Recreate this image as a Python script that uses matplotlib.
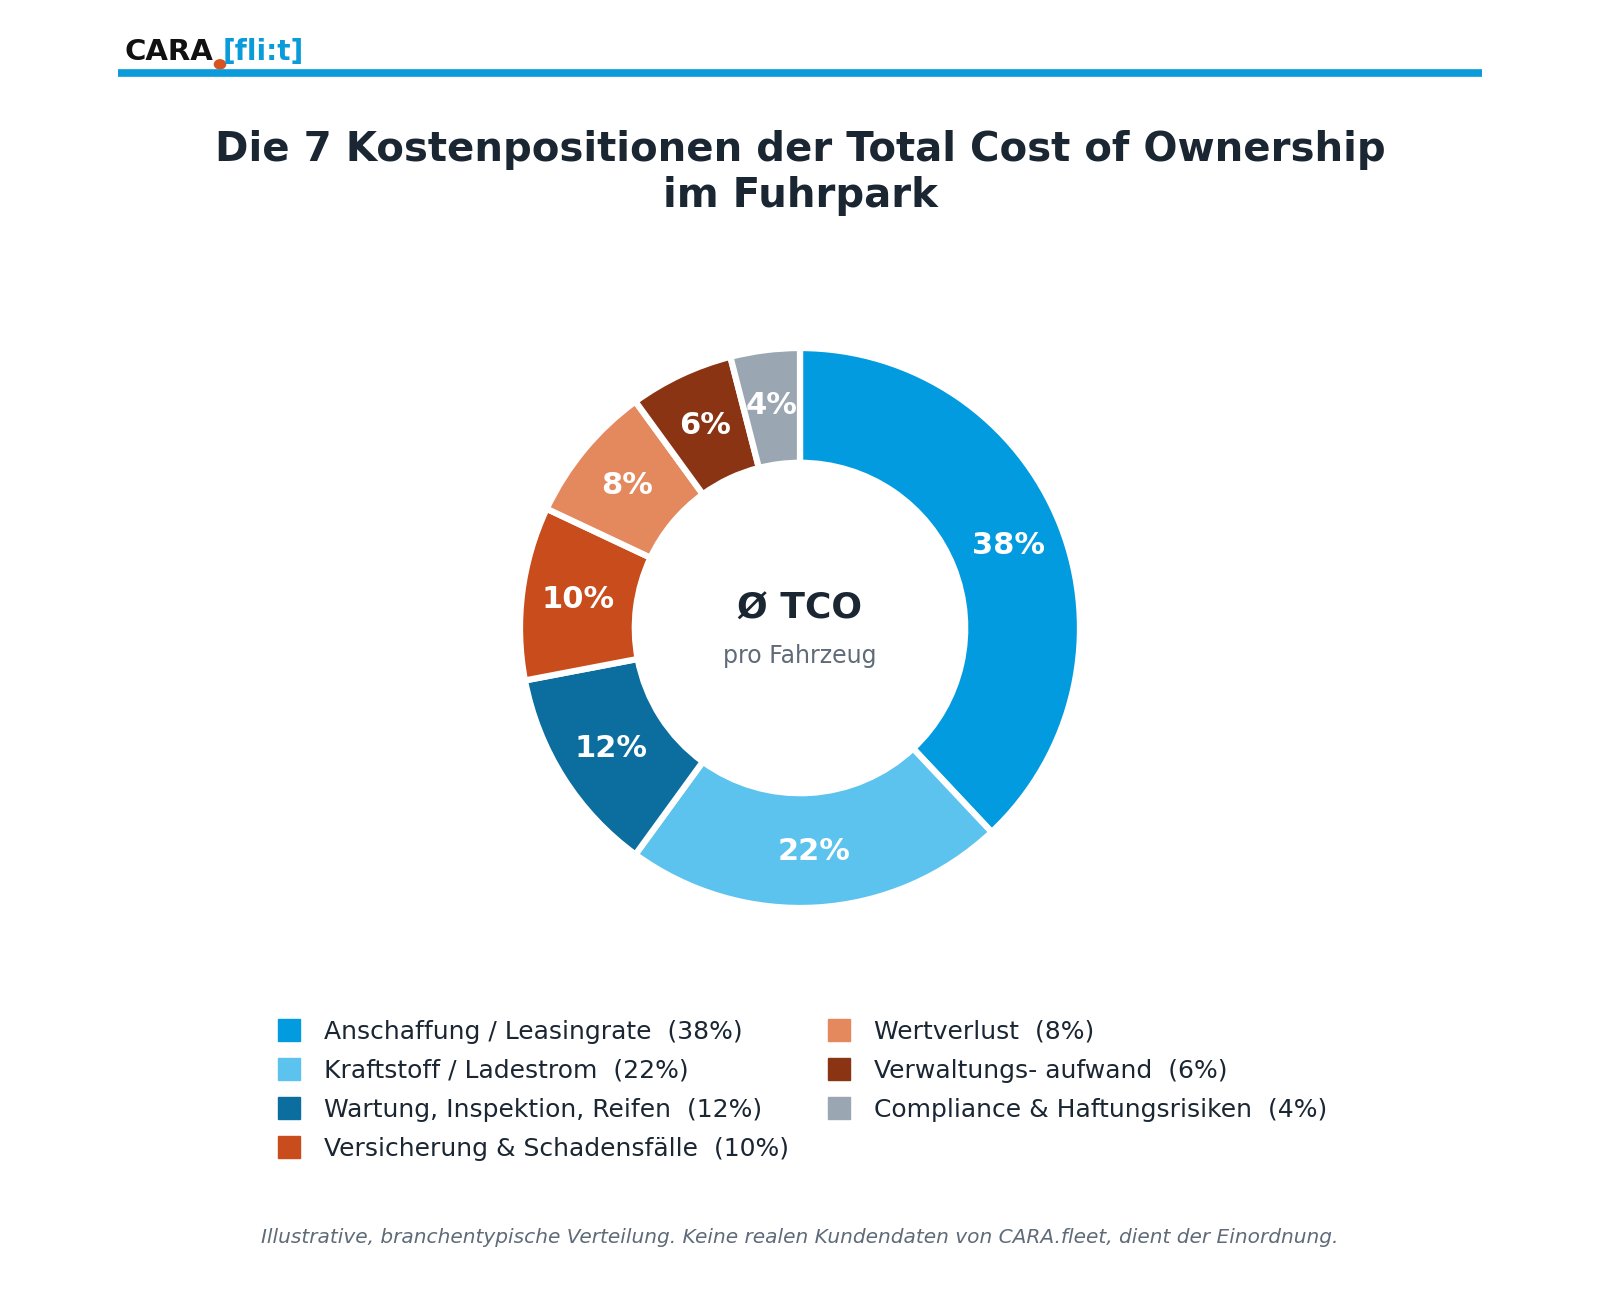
import matplotlib.pyplot as plt
import numpy as np
from matplotlib.lines import Line2D
from matplotlib.patches import Circle

# ---------------------------------------------------------------------------
# Data
# ---------------------------------------------------------------------------
categories = [
    'Anschaffung / Leasingrate',
    'Kraftstoff / Ladestrom',
    'Wartung, Inspektion, Reifen',
    'Versicherung & Schadensfälle',
    'Wertverlust',
    'Verwaltungs- aufwand',
    'Compliance & Haftungsrisiken',
]
shares = [38, 22, 12, 10, 8, 6, 4]
colors = ['#039BDF', '#5BC3EE', '#0B6E9F', '#C84C1C', '#E4895E', '#8A3413', '#9AA6B2']

DARK = '#1B2633'
GREY = '#5F6B78'

fig = plt.figure(figsize=(16, 13), dpi=100)

# ── Header: logo + rule ──────────────────────────────────────────────────────
fig.text(0.078, 0.960, 'CARA', fontsize=21, fontweight='bold', color='#111111',
         ha='left', va='center')
fig.text(0.139, 0.960, '[fli:t]', fontsize=20, fontweight='bold', color='#0A9BDB',
         ha='left', va='center')
fig.patches.append(Circle((0.1375, 0.9505), 0.0035, transform=fig.transFigure,
                          color='#D9531E', figure=fig))
fig.add_artist(Line2D([0.074, 0.926], [0.9435, 0.9435], color='#0A9BDB', linewidth=5.5,
                      solid_capstyle='butt'))

# ── Title ────────────────────────────────────────────────────────────────────
fig.text(0.5, 0.867, 'Die 7 Kostenpositionen der Total Cost of Ownership\nim Fuhrpark',
         fontsize=29, fontweight='bold', color=DARK, ha='center', va='center',
         linespacing=1.19)

# ── Donut ────────────────────────────────────────────────────────────────────
R = 280  # px
cx, cy = 800, 628
lim = 1.1
ax = fig.add_axes([(cx - R * lim) / 1600, 1 - (cy + R * lim) / 1300,
                   2 * R * lim / 1600, 2 * R * lim / 1300])
wedges, _ = ax.pie(shares, colors=colors, startangle=90, counterclock=False, radius=1.0,
                   wedgeprops=dict(width=0.41, edgecolor='white', linewidth=4.5))
ax.set_xlim(-lim, lim)
ax.set_ylim(-lim, lim)
ax.set_aspect('equal')
ax.axis('off')

angle = 90.0
for v in shares:
    mid = np.deg2rad(angle - v * 3.6 / 2)
    angle -= v * 3.6
    ax.text(0.8 * np.cos(mid), 0.8 * np.sin(mid), f'{v}%', ha='center', va='center',
            fontsize=22, fontweight='bold', color='white')

ax.text(0, 0.07, 'Ø TCO', ha='center', va='center', fontsize=26, fontweight='bold', color=DARK)
ax.text(0, -0.1, 'pro Fahrzeug', ha='center', va='center', fontsize=17, color=GREY)

# ── Legend ───────────────────────────────────────────────────────────────────
handles = [Line2D([], [], marker='s', linestyle='none', markersize=16, color=c) for c in colors]
labels = [f'{c}  ({v}%)' for c, v in zip(categories, shares)]
fig.legend(handles, labels, ncol=2, loc='upper left', bbox_to_anchor=(0.173, 0.2155),
           frameon=False, fontsize=18, labelcolor=DARK, handlelength=1.0,
           handletextpad=0.9, columnspacing=1.5, labelspacing=0.6,
           borderaxespad=0, borderpad=0)

# ── Footnote ─────────────────────────────────────────────────────────────────
fig.text(0.5, 0.048, 'Illustrative, branchentypische Verteilung. Keine realen Kundendaten '
         'von CARA.fleet, dient der Einordnung.', fontsize=14.5, style='italic',
         color=GREY, ha='center', va='center')

fig.savefig('out.png', dpi=100, facecolor='white')
